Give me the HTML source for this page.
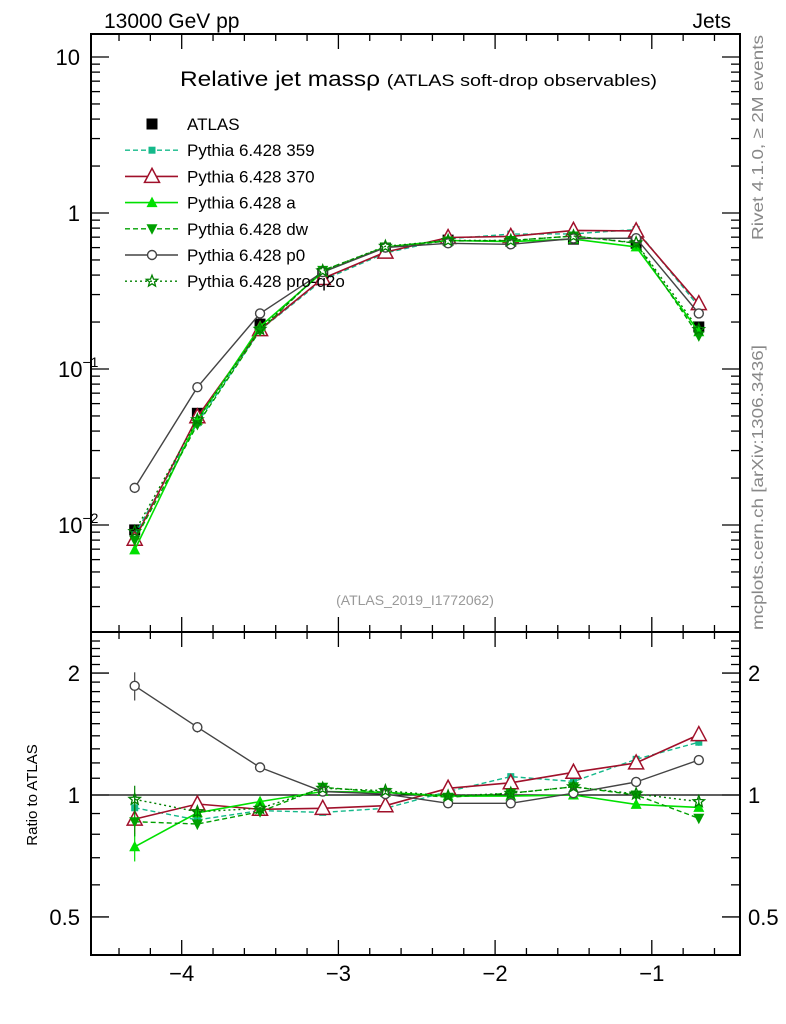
<!DOCTYPE html>
<html><head><meta charset="utf-8">
<style>
body{margin:0;background:#fff;}
svg{display:block;font-family:"Liberation Sans",sans-serif;}
</style></head>
<body>
<svg id="chart" width="786" height="1024" viewBox="0 0 786 1024" xmlns="http://www.w3.org/2000/svg">
<text x="104" y="28" font-size="21">13000 GeV pp</text>
<text x="731" y="28" font-size="21" text-anchor="end">Jets</text>
<text x="180" y="86" font-size="21" textLength="477" lengthAdjust="spacingAndGlyphs">Relative jet massρ <tspan font-size="17">(ATLAS soft-drop observables)</tspan></text>
<text x="415" y="605" font-size="14" fill="#999" text-anchor="middle">(ATLAS_2019_I1772062)</text>
<text transform="translate(763,240) rotate(-90)" font-size="16" fill="#888" textLength="205" lengthAdjust="spacingAndGlyphs">Rivet 4.1.0, ≥ 2M events</text>
<text transform="translate(763,630) rotate(-90)" font-size="16" fill="#888" textLength="285" lengthAdjust="spacingAndGlyphs">mcplots.cern.ch [arXiv:1306.3436]</text>
<text transform="translate(37,795) rotate(-90)" font-size="15" text-anchor="middle">Ratio to ATLAS</text>
<g id="axes"></g>
<g id="series"></g>
<g id="legend"></g>
</svg>
<script>
const xVals=[-4.3,-3.9,-3.5,-3.1,-2.7,-2.3,-1.9,-1.5,-1.1,-0.7];
const atlasVals=[0.0093,0.052,0.194,0.41,0.597,0.67,0.66,0.68,0.64,0.186];
const ratio359=[0.93,0.868,0.915,0.906,0.927,1.02,1.11,1.08,1.225,1.35];
const ratio370=[0.872,0.95,0.922,0.927,0.941,1.039,1.072,1.138,1.20,1.41];
const ratioA=[0.745,0.904,0.963,1.02,1.015,0.994,0.994,1.0,0.948,0.932];
const ratioDw=[0.859,0.848,0.909,1.045,1.015,0.987,1.01,1.048,1.0,0.876];
const ratioP0=[1.86,1.47,1.17,1.02,1.005,0.954,0.954,1.01,1.077,1.22];
const ratioQ2o=[0.976,0.909,0.927,1.039,1.025,0.994,1.01,1.048,1.006,0.963];
const ratioErr=[0.08,0.03,0.01,0.01,0.01,0.01,0.01,0.01,0.01,0.02];
const xTicks=[-4,-3,-2,-1];
const mainTicks=[0.01,0.1,1,10];
const ratioTicks=[0.5,1,2];

const NS="http://www.w3.org/2000/svg";
const L=91,R=740,T=34,MB=632,RB=955;
const X=v=>181.7+(v+4)*156.7;
const YM=v=>213-Math.log10(v)*156;
const YR=v=>795-Math.log10(v)*405;
function mk(tag,attrs,parent){const e=document.createElementNS(NS,tag);for(const k in attrs)e.setAttribute(k,attrs[k]);parent.appendChild(e);return e;}
const ax=document.getElementById('axes');
const sr=document.getElementById('series');
const lg=document.getElementById('legend');

let f1=mk('rect',{x:L,y:T,width:R-L,height:MB-T,fill:'none',stroke:'#000','stroke-width':2},ax);

let f2=mk('rect',{x:L,y:MB,width:R-L,height:RB-MB,fill:'none',stroke:'#000','stroke-width':2},ax);


for(let v=-4.6;v<=-0.45;v+=0.2){
  const vv=Math.round(v*10)/10;const x=X(vv);if(x<L+2||x>R-2)continue;
  const major=xTicks.includes(vv);const len=major?15:7;
  for(const [y0,d] of [[T,1],[MB,-1],[MB,1],[RB,-1]]){
    const t=mk('line',{x1:x,x2:x,y1:y0,y2:y0+d*len,stroke:'#000','stroke-width':1.3},ax);
    
  }
}
xTicks.forEach(v=>{const t=mk('text',{x:X(v),y:981,'font-size':22,'text-anchor':'middle'},ax);t.textContent='−'+Math.abs(v);
  });

for(let e=-3;e<=1;e++){for(let m=1;m<10;m++){const v=m*Math.pow(10,e);const y=YM(v);if(y<T+1||y>MB-1)continue;
  const len=m===1?18:9;
  for(const [x0,d] of [[L,1],[R,-1]]){const t=mk('line',{x1:x0,x2:x0+d*len,y1:y,y2:y,stroke:'#000','stroke-width':1.3},ax);
    }}}
const mlabels=[[10,'10',''],[1,'1',''],[0.1,'10','−1'],[0.01,'10','−2']];
mlabels.forEach(([v,b,s])=>{const t=mk('text',{x:s?58:80,y:YM(v)+8,'font-size':22,'text-anchor':s?'start':'end'},ax);t.textContent=b;
  if(s){const sp=mk('tspan',{dy:-10,'font-size':14},t);sp.textContent=s;}
  });

for(let v=0.4;v<=2.5;v+=0.1){const vv=Math.round(v*10)/10;const y=YR(vv);if(y<MB+2||y>RB-2)continue;
  const major=ratioTicks.includes(vv);const len=major?18:9;
  for(const [x0,d] of [[L,1],[R,-1]]){const t=mk('line',{x1:x0,x2:x0+d*len,y1:y,y2:y,stroke:'#000','stroke-width':1.3},ax);
    }}
ratioTicks.forEach(v=>{const s=String(v);
  const t=mk('text',{x:80,y:YR(v)+8,'font-size':22,'text-anchor':'end'},ax);t.textContent=s;
  
  const t2=mk('text',{x:748,y:YR(v)+8,'font-size':22},ax);t2.textContent=s;
  });
let one=mk('line',{x1:L,x2:R,y1:YR(1),y2:YR(1),stroke:'#000','stroke-width':1.3},ax);


function marker(type,x,y,color,parent){
  let e;
  if(type==='sq')e=mk('rect',{x:x-5.5,y:y-5.5,width:11,height:11,fill:color},parent);
  else if(type==='sqs')e=mk('rect',{x:x-3.5,y:y-3.5,width:7,height:7,fill:color},parent);
  else if(type==='tri')e=mk('polygon',{points:`${x},${y-8} ${x-7.5},${y+6} ${x+7.5},${y+6}`,fill:'#fff',stroke:color,'stroke-width':1.5},parent);
  else if(type==='ftri')e=mk('polygon',{points:`${x},${y-6} ${x-5.5},${y+4.5} ${x+5.5},${y+4.5}`,fill:color},parent);
  else if(type==='itri')e=mk('polygon',{points:`${x},${y+6} ${x-5.5},${y-4.5} ${x+5.5},${y-4.5}`,fill:color},parent);
  else if(type==='circ')e=mk('circle',{cx:x,cy:y,r:4.5,fill:'#fff',stroke:color,'stroke-width':1.4},parent);
  else if(type==='star'){let p=[];for(let i=0;i<10;i++){const r=i%2?2.6:6;const a=-Math.PI/2+i*Math.PI/5;p.push((x+r*Math.cos(a)).toFixed(1)+','+(y+r*Math.sin(a)).toFixed(1));}
    e=mk('polygon',{points:p.join(' '),fill:'none',stroke:color,'stroke-width':1.3},parent);}
  return e;
}

const series=[
 {name:'Pythia 6.428 359',key:'pythia-359',r:ratio359,color:'#14b98a',dash:'5,3',m:'sqs',w:1.4},
 {name:'Pythia 6.428 370',key:'pythia-370',r:ratio370,color:'#a0102a',dash:'',m:'tri',w:1.6},
 {name:'Pythia 6.428 a',key:'pythia-a',r:ratioA,color:'#00e000',dash:'',m:'ftri',w:1.6},
 {name:'Pythia 6.428 dw',key:'pythia-dw',r:ratioDw,color:'#00a000',dash:'5,3',m:'itri',w:1.4},
 {name:'Pythia 6.428 p0',key:'pythia-p0',r:ratioP0,color:'#444',dash:'',m:'circ',w:1.4},
 {name:'Pythia 6.428 pro-q2o',key:'pythia-pro-q2o',r:ratioQ2o,color:'#008000',dash:'2,3',m:'star',w:1.4},
];

atlasVals.forEach((v,i)=>{const e=marker('sq',X(xVals[i]),YM(v),'#000',sr);
  });

series.forEach(s=>{
  const g=mk('g',{},sr);
  const pm=xVals.map((x,i)=>X(x).toFixed(1)+','+YM(atlasVals[i]*s.r[i]).toFixed(1)).join(' ');
  const l1=mk('polyline',{points:pm,fill:'none',stroke:s.color,'stroke-width':s.w,'stroke-dasharray':s.dash},g);
  
  const pr=xVals.map((x,i)=>X(x).toFixed(1)+','+YR(s.r[i]).toFixed(1)).join(' ');
  const l2=mk('polyline',{points:pr,fill:'none',stroke:s.color,'stroke-width':s.w,'stroke-dasharray':s.dash},g);
  
  xVals.forEach((x,i)=>{
    const r=s.r[i],er=ratioErr[i]*r;
    const eb=mk('line',{x1:X(x),x2:X(x),y1:YR(r+er),y2:YR(r-er),stroke:s.color,'stroke-width':1.2},g);
    
    const m1=marker(s.m,X(x),YM(atlasVals[i]*r),s.color,g);
    
    const m2=marker(s.m,X(x),YR(r),s.color,g);
    
  });
});

const lgItems=[{name:'ATLAS',key:'atlas',m:'sq',color:'#000',dash:'none'}].concat(series);
lgItems.forEach((s,i)=>{const y=124+i*26.2;
  const g=mk('g',{},lg);
  if(s.key!=='atlas'){mk('line',{x1:125,x2:178,y1:y,y2:y,stroke:s.color,'stroke-width':s.w,'stroke-dasharray':s.dash},g);}
  marker(s.m,152,y,s.color,g);
  const t=mk('text',{x:187,y:y+6,'font-size':17},g);t.textContent=s.name;
});
</script>
</body></html>
